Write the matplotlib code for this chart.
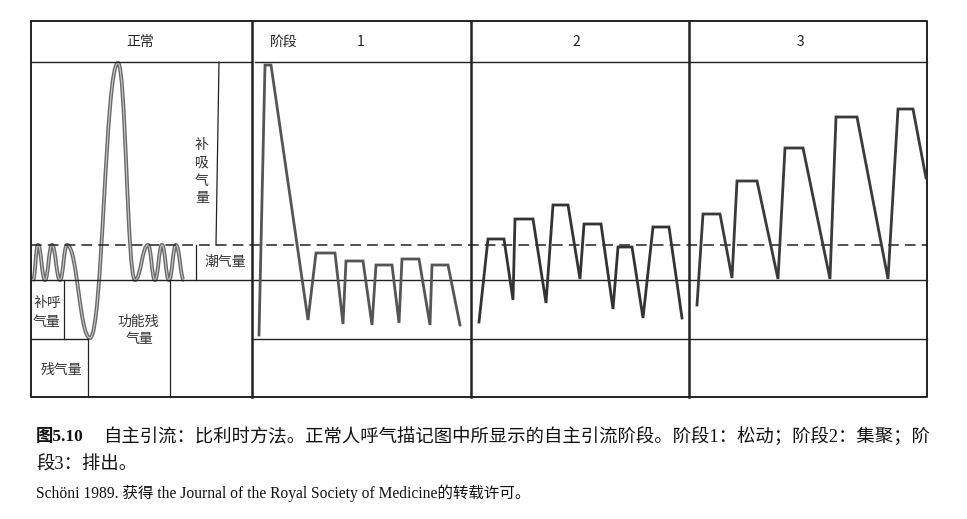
import matplotlib
matplotlib.use("Agg")
import matplotlib.pyplot as plt
from matplotlib.path import Path
from matplotlib.patches import PathPatch

plt.rcParams['font.family'] = ['Noto Sans CJK SC', 'DejaVu Sans']

# normal spirogram: turning points (x, level) of the smooth curve
normal_x = [33, 38, 45, 52, 60, 67, 90, 118, 135, 148, 155, 162, 169, 176, 184]
normal_y = [280, 245, 280, 245, 280, 245, 338, 63, 280, 245, 280, 245, 280, 245, 280]

# phase traces: vertices of the drawn polylines
ph1_x = [259, 265, 271, 308, 316, 335, 343, 346, 363, 372, 376, 392, 399, 402, 419, 430, 432, 448, 460]
ph1_y = [335, 65, 65, 320, 253, 253, 324, 261, 261, 325, 265, 265, 323, 259, 259, 325, 265, 265, 325]
ph2_x = [479, 488, 504, 513, 515, 533, 546, 553, 568, 580, 584, 601, 613, 618, 632, 643, 653, 669, 682]
ph2_y = [322, 239, 239, 300, 219, 219, 303, 205, 205, 279, 224, 224, 309, 247, 247, 318, 227, 227, 318]
ph3_x = [697, 703, 720, 732, 737, 757, 778, 785, 803, 830, 836, 857, 888, 898, 913, 926]
ph3_y = [305, 214, 214, 278, 181, 181, 279, 148, 148, 279, 117, 117, 279, 109, 109, 178]

headers = ['正常', '阶段', '1', '2', '3']
caption1 = '自主引流：比利时方法。正常人呼气描记图中所显示的自主引流阶段。阶段1：松动；阶段2：集聚；阶'
caption2 = '段3：排出。'
caption3 = 'Schöni 1989. 获得 the Journal of the Royal Society of Medicine的转载许可。'

fig = plt.figure(figsize=(9.67, 5.19), dpi=100)
ax = fig.add_axes([0, 0, 1, 1])
ax.set_xlim(0, 967)
ax.set_ylim(519, 0)
ax.axis('off')

k = '#222222'
# frame
ax.plot([31, 927, 927, 31, 31], [21, 21, 397, 397, 21], color=k, lw=1.4)
for xv in [252, 471, 689]:
    ax.plot([xv, xv], [21, 397], color=k, lw=1.8)
# header line
ax.plot([31, 252], [62, 62], color=k, lw=1.0)
ax.plot([255, 927], [62, 62], color=k, lw=1.0)
# tidal band
ax.plot([31, 927], [245, 245], color=k, lw=1.1, ls=(0, (7, 4)))
ax.plot([31, 927], [280, 280], color=k, lw=1.0)
# residual volume level
ax.plot([31, 88], [339, 339], color=k, lw=1.0)
ax.plot([252, 927], [339, 339], color=k, lw=1.0)
# volume markers in normal panel
ax.plot([219, 216], [62, 245], color=k, lw=0.9)
ax.plot([196, 196], [245, 280], color=k, lw=0.9)
ax.plot([64, 64], [280, 339], color=k, lw=0.9)
ax.plot([170, 170], [280, 397], color=k, lw=0.9)
ax.plot([88, 88], [339, 397], color=k, lw=0.9)

# smooth normal curve via cubic bezier segments
verts = [(normal_x[0], normal_y[0])]
codes = [Path.MOVETO]
for i in range(1, len(normal_x)):
    x0, y0 = normal_x[i - 1], normal_y[i - 1]
    x1, y1 = normal_x[i], normal_y[i]
    dx = (x1 - x0) * 0.45
    verts += [(x0 + dx, y0), (x1 - dx, y1), (x1, y1)]
    codes += [Path.CURVE4] * 3
p = Path(verts, codes)
ax.add_patch(PathPatch(p, fc='none', ec='#6a6a6a', lw=2.8))
ax.add_patch(PathPatch(p, fc='none', ec='#c8c8c8', lw=0.8))

ax.plot(ph1_x, ph1_y, color='#555555', lw=2.0, solid_joinstyle='miter')
ax.plot(ph2_x, ph2_y, color='#333333', lw=2.0, solid_joinstyle='miter')
ax.plot(ph3_x, ph3_y, color='#3a3a3a', lw=2.0, solid_joinstyle='miter')

# header labels
hx = [140, 284, 361, 576, 800]
for t, xv in zip(headers, hx):
    ax.text(xv, 42, t, ha='center', va='center', fontsize=10, color='#222222')

lab = dict(ha='center', va='center', fontsize=10, color='#333333')
for c, yv in zip('补吸气量', [145, 163, 181, 198]):
    ax.text(202, yv, c, **lab)
ax.text(225, 262, '潮气量', **lab)
ax.text(47, 303, '补呼', **lab)
ax.text(47, 322, '气量', **lab)
ax.text(138, 322, '功能残', **lab)
ax.text(140, 339, '气量', **lab)
ax.text(61, 370, '残气量', **lab)

# caption
serif = ['Liberation Serif', 'Noto Sans CJK SC']
ax.text(36, 437, '图5.10', ha='left', va='center', fontsize=12.5, fontweight='bold',
        family=serif, color='#111111')
ax.text(103, 437, caption1, ha='left', va='center', fontsize=13.2, family=serif, color='#111111')
ax.text(36, 465, caption2, ha='left', va='center', fontsize=13.2, family=serif, color='#111111')
ax.text(36, 493, caption3, ha='left', va='center', fontsize=11.2, family=serif, color='#111111')

fig.savefig('out.png', dpi=100)
